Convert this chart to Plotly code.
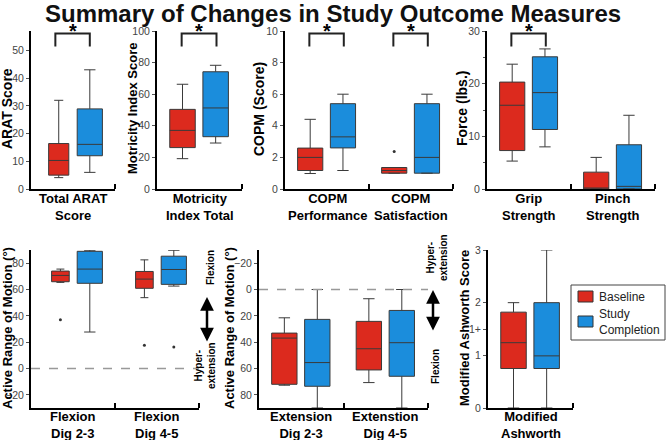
import plotly.graph_objects as go

W, H = 666, 440
FONT = "Arial, 'Liberation Sans', sans-serif"
RED = "#dc2a1e"
BLUE = "#1b8ddc"
EDGE = "#3a3a3a"

# box stats per category: [lower whisker, q1, median, q3, upper whisker]
arat_labels = ["Total ARAT<br>Score"]
arat_baseline = [[4.1, 5.0, 10.3, 16.4, 32.0]]
arat_completion = [[6.0, 12.0, 16.1, 28.9, 43.0]]
arat_significant = [True]

motricity_labels = ["Motricity<br>Index Total"]
motricity_baseline = [[19.2, 26.2, 37.1, 50.4, 66.3]]
motricity_completion = [[29.1, 33.1, 51.3, 74.2, 78.3]]
motricity_significant = [True]

copm_labels = ["COPM<br>Performance", "COPM<br>Satisfaction"]
copm_baseline = [[0.98, 1.17, 2.0, 2.59, 4.41], [1.0, 1.0, 1.17, 1.36, 1.36]]
copm_completion = [[1.17, 2.6, 3.3, 5.4, 6.0], [1.0, 1.0, 2.0, 5.4, 6.0]]
copm_baseline_outliers = [[], [2.38]]
copm_significant = [True, True]

force_labels = ["Grip<br>Strength", "Pinch<br>Strength"]
force_baseline = [[5.3, 7.3, 15.9, 20.3, 23.7], [0.0, 0.0, 0.0, 3.2, 6.0]]
force_completion = [[8.0, 11.3, 18.3, 25.1, 26.6], [0.0, 0.0, 0.5, 8.4, 14.0]]
force_significant = [True, False]

flexion_labels = ["Flexion<br>Dig 2-3", "Flexion<br>Dig 4-5"]
flexion_baseline = [[65.4, 65.9, 70.7, 74.0, 75.5], [53.8, 60.9, 67.9, 73.7, 82.5]]
flexion_completion = [[27.7, 64.7, 75.5, 89.0, 89.8], [62.6, 63.9, 75.2, 85.3, 89.8]]
flexion_baseline_outliers = [[37.0], [17.6]]
flexion_completion_outliers = [[], [16.4]]

extension_labels = ["Extension<br>Dig 2-3", "Extenstion<br>Dig 4-5"]
extension_baseline = [[21.5, 33.1, 36.9, 72.0, 72.7], [7.0, 24.2, 45.0, 61.1, 70.7]]
extension_completion = [[0.0, 22.7, 55.5, 73.5, 90.0], [0.0, 15.9, 40.4, 65.9, 90.0]]

ashworth_labels = ["Modified<br>Ashworth"]
ashworth_baseline = [[0.0, 0.75, 1.24, 1.82, 2.0]]
ashworth_completion = [[0.0, 0.75, 0.99, 2.0, 3.0]]
ashworth_tickvals = [0, 1, 1.5, 2, 3]
ashworth_ticktext = ["0", "1", "1+", "2", "3"]

# panel placement in pixels: x span, y span, title x
panels = [
    dict(labels=arat_labels, base=arat_baseline, comp=arat_completion, sig=arat_significant,
         x=(31, 115), y=(31, 189), yrange=[0, 57], tickvals=[0, 10, 20, 30, 40, 50],
         title="ARAT Score", tx=7, tsize=14, boxes=(-0.17, 0.2, 0.24, 0.3)),
    dict(labels=motricity_labels, base=motricity_baseline, comp=motricity_completion,
         sig=motricity_significant, x=(157, 242), y=(31, 189), yrange=[0, 100],
         tickvals=[0, 20, 40, 60, 80, 100], title="Motricity Index Score", tx=132, tsize=13),
    dict(labels=copm_labels, base=copm_baseline, comp=copm_completion, sig=copm_significant,
         out_b=copm_baseline_outliers, x=(285, 453), y=(31, 189), yrange=[0, 10],
         tickvals=[0, 2, 4, 6, 8, 10], title="COPM (Score)", tx=259, tsize=14),
    dict(labels=force_labels, base=force_baseline, comp=force_completion, sig=force_significant,
         x=(487, 655), y=(31, 189), yrange=[0, 30], tickvals=[0, 10, 20, 30],
         title="Force (lbs.)", tx=462, tsize=14, yminor=5),
    dict(labels=flexion_labels, base=flexion_baseline, comp=flexion_completion,
         out_b=flexion_baseline_outliers, out_c=flexion_completion_outliers,
         x=(31, 199), y=(250, 408), yrange=[-30, 90], tickvals=[-20, 0, 20, 40, 60, 80],
         title="Active Range of Motion (°)", tx=7, tsize=13, zero=True,
         boxes=(-0.15, 0.2, 0.21, 0.3)),
    dict(labels=extension_labels, base=extension_baseline, comp=extension_completion,
         x=(259, 428), y=(250, 408), yrange=[90, -30], tickvals=[-20, 0, 20, 40, 60, 80],
         title="Active Range of Motion (°)", tx=229, tsize=13, zero=True),
    dict(labels=ashworth_labels, base=ashworth_baseline, comp=ashworth_completion,
         x=(488, 573), y=(250, 408), yrange=[0, 3], tickvals=ashworth_tickvals,
         ticktext=ashworth_ticktext, title="Modified Ashworth Score", tx=464, tsize=13),
]


def px(x):
    return x / W


def py(y):
    return 1 - y / H


fig = go.Figure()
layout = {}
shapes = []
annotations = []

for i, p in enumerate(panels, start=1):
    suffix = "" if i == 1 else str(i)
    xa, ya = "x" + suffix, "y" + suffix
    n = len(p["labels"])
    centers = [k + 0.5 for k in range(n)]
    off_b, off_c, w_b, w_c = p.get("boxes", (-0.2, 0.19, 0.3, 0.3))

    for k in range(n):
        for stats, off, w, color in ((p["base"][k], off_b, w_b, RED),
                                     (p["comp"][k], off_c, w_c, BLUE)):
            lo, q1, med, q3, hi = stats
            fig.add_trace(go.Box(
                x=[centers[k] + off], lowerfence=[lo], q1=[q1], median=[med],
                q3=[q3], upperfence=[hi], width=w, fillcolor=color,
                line=dict(color=EDGE, width=1), whiskerwidth=0.45,
                xaxis=xa, yaxis=ya, showlegend=False, hoverinfo="y",
            ))
        for key, off in (("out_b", off_b), ("out_c", off_c)):
            pts = p.get(key, [[]] * n)[k]
            if pts:
                fig.add_trace(go.Scatter(
                    x=[centers[k] + off] * len(pts), y=pts, mode="markers",
                    marker=dict(size=3, color="#333"), xaxis=xa, yaxis=ya,
                    showlegend=False,
                ))

    x0, x1 = p["x"]
    y0, y1 = p["y"]
    layout["xaxis" + suffix] = dict(
        domain=[px(x0), px(x1)], anchor=ya, range=[0, n],
        showticklabels=False, ticks="", automargin=False,
        showline=True, linecolor="black", linewidth=2,
        showgrid=False, zeroline=False, fixedrange=True,
        minor=dict(tickmode="array", tickvals=list(range(1, n + 1)), ticks="inside",
                   ticklen=5, tickwidth=2, tickcolor="black", showgrid=False),
    )
    yaxis = dict(
        domain=[py(y1), py(y0)], anchor=xa, range=p["yrange"], automargin=False,
        tickvals=p["tickvals"], ticks="outside", ticklen=3, tickwidth=1,
        tickcolor="#555", tickfont=dict(size=10.5, color="#444"),
        showline=True, linecolor="black", linewidth=2,
        showgrid=False, zeroline=False, fixedrange=True,
    )
    if "ticktext" in p:
        yaxis["ticktext"] = p["ticktext"]
    if "yminor" in p:
        yaxis["minor"] = dict(dtick=p["yminor"], ticks="outside", ticklen=2,
                              tickcolor="#555", showgrid=False)
    layout["yaxis" + suffix] = yaxis

    # category names under each group
    for c, label in zip(centers, p["labels"]):
        annotations.append(dict(
            text=label, x=c, y=py(y1 + (0 if y1 < 300 else -1.5)), xref=xa, yref="paper",
            xanchor="center", yanchor="top", showarrow=False,
            font=dict(size=13, color="black", weight="bold"),
        ))

    annotations.append(dict(
        text=p["title"], x=px(p["tx"]), y=py((y0 + y1) / 2 - 1), xref="paper", yref="paper",
        textangle=-90, showarrow=False, xanchor="center", yanchor="middle",
        font=dict(size=p["tsize"], color="black", weight="bold"),
    ))

    if p.get("zero"):
        shapes.append(dict(type="line", xref=xa + " domain", yref=ya, x0=0, x1=1, y0=0, y1=0,
                           line=dict(color="#999", width=1.5, dash="dash")))

    for k, sig in enumerate(p.get("sig", [])):
        if not sig:
            continue
        bl, br = centers[k] - 0.21, centers[k] + 0.2
        shapes.append(dict(
            type="path", xref=xa, yref="paper",
            path=f"M {bl},{py(46.5)} L {bl},{py(33.5)} L {br},{py(33.5)} L {br},{py(46.5)}",
            line=dict(color="#222", width=2),
        ))
        annotations.append(dict(
            text="*", x=(bl + br) / 2, y=py(31), xref=xa, yref="paper", showarrow=False,
            xanchor="center", yanchor="middle",
            font=dict(size=20, color="black", weight="bold"),
        ))

# direction hints beside the range-of-motion panels
side_font = dict(size=10, color="black", weight="bold")
for tx, ty, text in ((210, 268, "Flexion"), (205, 366, "Hyper-<br>extension"),
                     (437, 258, "Hyper-<br>extension"), (435, 367, "Flexion")):
    annotations.append(dict(text=text, x=px(tx), y=py(ty), xref="paper", yref="paper",
                            textangle=-90, showarrow=False, xanchor="center",
                            yanchor="middle", font=side_font))
for ax_px, top, bottom in ((207, 297, 343), (433, 290, 332)):
    annotations.append(dict(
        text="", x=px(ax_px), y=py(top), ax=0, ay=bottom - top,
        xref="paper", yref="paper", axref="pixel", ayref="pixel",
        showarrow=True, arrowhead=2, arrowside="end+start", arrowsize=1.1,
        arrowwidth=2.5, arrowcolor="black",
    ))

# legend drawn by hand
shapes.append(dict(type="rect", xref="paper", yref="paper", x0=px(571), x1=px(665),
                   y0=py(340), y1=py(285), line=dict(color="#444", width=1),
                   fillcolor="white"))
for color, top in ((RED, 291), (BLUE, 316)):
    shapes.append(dict(type="rect", xref="paper", yref="paper", x0=px(578), x1=px(593),
                       y0=py(top + 11), y1=py(top), line=dict(color="#333", width=1),
                       fillcolor=color))
for text, ty in (("Baseline", 297), ("Study<br>Completion", 322)):
    annotations.append(dict(text=text, x=px(597), y=py(ty), xref="paper", yref="paper",
                            xanchor="left", yanchor="middle", align="left",
                            showarrow=False, font=dict(size=12, color="#222")))

annotations.append(dict(
    text="Summary of Changes in Study Outcome Measures", x=px(333), y=py(13.5),
    xref="paper", yref="paper", showarrow=False, xanchor="center", yanchor="middle",
    font=dict(size=24, color="#111", weight="bold"),
))

fig.update_layout(
    **layout,
    shapes=shapes,
    annotations=annotations,
    width=W, height=H,
    margin=dict(l=0, r=0, t=0, b=0, autoexpand=False),
    plot_bgcolor="white", paper_bgcolor="white",
    font=dict(family=FONT),
    showlegend=False,
)

fig.write_html("out.html", config={"displayModeBar": False},
               post_script="document.body.style.margin = '0';")
